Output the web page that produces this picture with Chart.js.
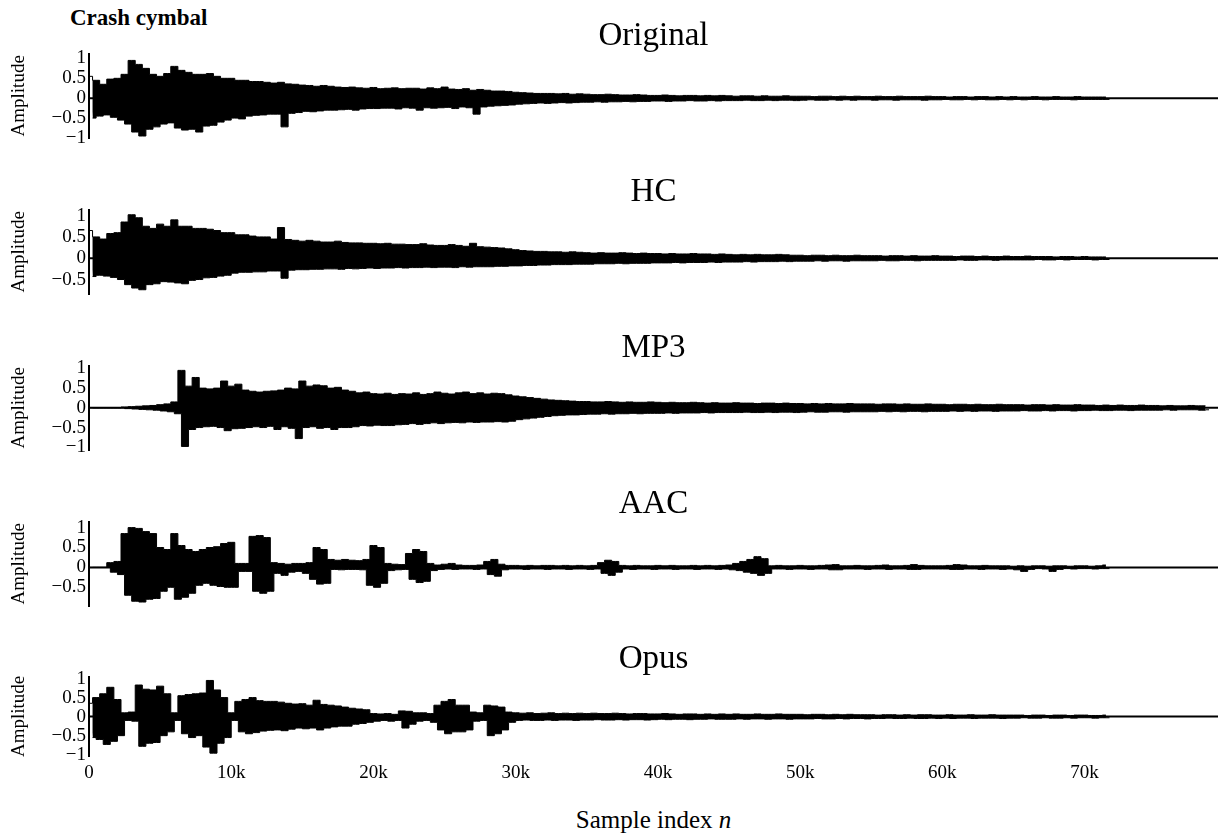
<!DOCTYPE html>
<html>
<head>
<meta charset="utf-8">
<script src="https://cdn.jsdelivr.net/npm/chart.js@4.4.1/dist/chart.umd.min.js"></script>
<style>
  body { margin: 0; background: #fff; }
  #wrap { position: relative; width: 1222px; height: 837px; overflow: hidden; }
  #wrap canvas { position: absolute; left: 0; }
  #caption {
    position: absolute; left: 70px; top: 5px;
    font-family: "Liberation Serif", "Times New Roman", serif;
    font-weight: bold; font-size: 23px; line-height: 26px; color: #000;
  }
  #xlabel {
    position: absolute; left: 89px; width: 1129px; top: 805px; text-align: center;
    font-family: "Liberation Serif", "Times New Roman", serif;
    font-size: 25px; line-height: 30px; color: #000;
  }
</style>
</head>
<body>
<div id="wrap">
  <div id="caption">Crash cymbal</div>
  <div id="xlabel">Sample index <i>n</i></div>
</div>
<script>
// peak envelope of each decoded signal, one hi/lo pair per 500 samples
const step = 500;
const nSamples = 79380;
const titles = ['Original', 'HC', 'MP3', 'AAC', 'Opus'];
const xTickValues = [0, 10000, 20000, 30000, 40000, 50000, 60000, 70000];
const yTickValues = [-1, -0.5, 0, 0.5, 1];
const yMins = [-1, -0.84, -1.07, -0.97, -1.04];
const yMaxs = [1.12, 1.14, 1.07, 1.15, 1.05];

const origHi = [
  0.55,0.45,0.35,0.48,0.5,0.6,0.95,0.85,0.75,0.6,
  0.55,0.62,0.8,0.7,0.65,0.6,0.6,0.62,0.55,0.5,
  0.5,0.45,0.45,0.42,0.42,0.4,0.38,0.4,0.36,0.35,
  0.33,0.32,0.3,0.32,0.3,0.28,0.27,0.28,0.26,0.25,
  0.27,0.24,0.25,0.26,0.24,0.25,0.25,0.23,0.26,0.24,
  0.28,0.23,0.22,0.24,0.2,0.22,0.2,0.18,0.18,0.17,
  0.15,0.14,0.13,0.12,0.12,0.12,0.11,0.12,0.1,0.11,
  0.1,0.09,0.09,0.1,0.09,0.08,0.08,0.09,0.08,0.07,
  0.07,0.08,0.07,0.06,0.07,0.07,0.06,0.07,0.06,0.07,
  0.06,0.05,0.06,0.06,0.05,0.06,0.05,0.05,0.06,0.05,
  0.05,0.05,0.04,0.05,0.05,0.04,0.05,0.04,0.05,0.04,
  0.04,0.05,0.04,0.04,0.05,0.04,0.04,0.04,0.05,0.04,
  0.04,0.03,0.04,0.04,0.03,0.04,0.04,0.03,0.04,0.03,
  0.04,0.03,0.03,0.04,0.03,0.03,0.04,0.03,0.03,0.04,
  0.03,0.03,0.03,0.03
];
const origLo = [
  -0.5,-0.45,-0.42,-0.48,-0.55,-0.65,-0.85,-0.95,-0.78,-0.72,
  -0.65,-0.62,-0.75,-0.8,-0.78,-0.85,-0.7,-0.68,-0.6,-0.55,
  -0.5,-0.52,-0.45,-0.43,-0.42,-0.4,-0.4,-0.72,-0.38,-0.36,
  -0.33,-0.34,-0.32,-0.3,-0.3,-0.29,-0.28,-0.3,-0.27,-0.26,
  -0.26,-0.25,-0.25,-0.27,-0.24,-0.25,-0.3,-0.24,-0.25,-0.24,
  -0.23,-0.26,-0.22,-0.24,-0.4,-0.22,-0.2,-0.19,-0.18,-0.17,
  -0.15,-0.14,-0.13,-0.12,-0.13,-0.12,-0.11,-0.12,-0.11,-0.1,
  -0.1,-0.09,-0.1,-0.09,-0.09,-0.08,-0.09,-0.08,-0.08,-0.07,
  -0.07,-0.08,-0.07,-0.07,-0.06,-0.07,-0.07,-0.06,-0.07,-0.06,
  -0.06,-0.06,-0.05,-0.06,-0.06,-0.05,-0.06,-0.05,-0.05,-0.06,
  -0.05,-0.04,-0.05,-0.05,-0.04,-0.05,-0.04,-0.05,-0.04,-0.04,
  -0.05,-0.04,-0.04,-0.05,-0.04,-0.04,-0.04,-0.05,-0.04,-0.04,
  -0.03,-0.04,-0.04,-0.03,-0.04,-0.03,-0.04,-0.04,-0.03,-0.04,
  -0.03,-0.04,-0.03,-0.03,-0.04,-0.03,-0.03,-0.03,-0.04,-0.03,
  -0.03,-0.03,-0.03,-0.03
];

const hcHi = [
  0.65,0.5,0.45,0.58,0.6,0.85,1.02,0.95,0.75,0.7,
  0.8,0.75,0.9,0.75,0.75,0.7,0.7,0.68,0.65,0.6,
  0.6,0.55,0.55,0.52,0.5,0.5,0.45,0.72,0.44,0.42,
  0.4,0.42,0.4,0.38,0.38,0.4,0.37,0.36,0.36,0.35,
  0.35,0.34,0.35,0.33,0.33,0.32,0.32,0.34,0.31,0.3,
  0.3,0.32,0.3,0.28,0.35,0.27,0.26,0.25,0.24,0.22,
  0.2,0.18,0.17,0.16,0.16,0.15,0.15,0.14,0.15,0.14,
  0.13,0.12,0.13,0.12,0.12,0.13,0.12,0.11,0.12,0.11,
  0.11,0.1,0.11,0.1,0.1,0.11,0.1,0.1,0.09,0.1,
  0.09,0.08,0.09,0.08,0.09,0.08,0.08,0.09,0.08,0.07,
  0.07,0.06,0.07,0.07,0.06,0.07,0.06,0.06,0.07,0.06,
  0.06,0.06,0.05,0.06,0.06,0.05,0.06,0.05,0.05,0.06,
  0.05,0.05,0.04,0.05,0.05,0.04,0.05,0.04,0.04,0.05,
  0.04,0.04,0.05,0.04,0.04,0.04,0.03,0.04,0.04,0.03,
  0.04,0.03,0.03,0.03
];
const hcLo = [
  -0.43,-0.4,-0.42,-0.45,-0.5,-0.62,-0.7,-0.74,-0.62,-0.6,
  -0.55,-0.56,-0.58,-0.6,-0.52,-0.5,-0.46,-0.45,-0.42,-0.4,
  -0.35,-0.33,-0.33,-0.32,-0.32,-0.3,-0.3,-0.47,-0.28,-0.27,
  -0.27,-0.26,-0.26,-0.25,-0.25,-0.26,-0.24,-0.25,-0.24,-0.23,
  -0.24,-0.23,-0.23,-0.22,-0.23,-0.22,-0.22,-0.21,-0.22,-0.21,
  -0.21,-0.22,-0.2,-0.21,-0.2,-0.2,-0.2,-0.19,-0.19,-0.18,
  -0.18,-0.17,-0.17,-0.16,-0.16,-0.15,-0.15,-0.15,-0.14,-0.14,
  -0.14,-0.13,-0.13,-0.13,-0.12,-0.13,-0.12,-0.12,-0.12,-0.11,
  -0.11,-0.11,-0.1,-0.11,-0.1,-0.1,-0.1,-0.09,-0.1,-0.09,
  -0.09,-0.09,-0.08,-0.09,-0.08,-0.08,-0.08,-0.07,-0.08,-0.07,
  -0.07,-0.07,-0.06,-0.07,-0.06,-0.06,-0.07,-0.06,-0.06,-0.06,
  -0.06,-0.05,-0.06,-0.06,-0.05,-0.05,-0.06,-0.05,-0.05,-0.05,
  -0.05,-0.05,-0.04,-0.05,-0.05,-0.04,-0.04,-0.05,-0.04,-0.04,
  -0.04,-0.04,-0.04,-0.03,-0.04,-0.04,-0.03,-0.04,-0.03,-0.03,
  -0.03,-0.04,-0.03,-0.03
];

const mp3Hi = [
  0,0,0,0,0,0.02,0.03,0.04,0.05,0.06,
  0.08,0.1,0.15,0.95,0.55,0.77,0.5,0.48,0.5,0.68,
  0.55,0.6,0.45,0.42,0.4,0.42,0.43,0.45,0.5,0.48,
  0.68,0.55,0.58,0.56,0.5,0.52,0.45,0.42,0.38,0.4,
  0.36,0.35,0.37,0.34,0.36,0.35,0.38,0.34,0.36,0.4,
  0.37,0.35,0.38,0.4,0.36,0.38,0.35,0.37,0.36,0.33,
  0.3,0.28,0.26,0.24,0.22,0.2,0.19,0.18,0.17,0.16,
  0.16,0.15,0.15,0.16,0.15,0.14,0.15,0.14,0.14,0.15,
  0.14,0.13,0.14,0.13,0.13,0.14,0.13,0.12,0.13,0.12,
  0.12,0.13,0.12,0.12,0.11,0.12,0.12,0.11,0.12,0.11,
  0.11,0.1,0.11,0.1,0.11,0.1,0.1,0.11,0.1,0.1,
  0.1,0.09,0.1,0.1,0.09,0.1,0.09,0.09,0.1,0.09,
  0.09,0.08,0.09,0.09,0.08,0.09,0.08,0.08,0.09,0.08,
  0.08,0.08,0.07,0.08,0.08,0.07,0.08,0.07,0.07,0.08,
  0.07,0.07,0.06,0.07,0.06,0.07,0.06,0.06,0.07,0.06,
  0.06,0.05,0.06,0.05,0.05,0.06,0.05,0.05
];
const mp3Lo = [
  0,0,0,0,0,-0.02,-0.03,-0.04,-0.05,-0.06,
  -0.08,-0.1,-0.15,-0.98,-0.55,-0.5,-0.48,-0.47,-0.5,-0.58,
  -0.53,-0.52,-0.5,-0.48,-0.5,-0.47,-0.55,-0.48,-0.52,-0.78,
  -0.5,-0.48,-0.52,-0.5,-0.55,-0.5,-0.5,-0.48,-0.45,-0.46,
  -0.44,-0.45,-0.45,-0.43,-0.42,-0.4,-0.42,-0.4,-0.38,-0.4,
  -0.38,-0.37,-0.38,-0.36,-0.37,-0.36,-0.36,-0.35,-0.36,-0.34,
  -0.3,-0.28,-0.26,-0.24,-0.22,-0.2,-0.19,-0.18,-0.18,-0.17,
  -0.16,-0.16,-0.15,-0.16,-0.15,-0.15,-0.14,-0.15,-0.14,-0.14,
  -0.14,-0.13,-0.14,-0.13,-0.13,-0.13,-0.12,-0.13,-0.12,-0.12,
  -0.12,-0.12,-0.11,-0.12,-0.12,-0.11,-0.12,-0.11,-0.11,-0.12,
  -0.11,-0.1,-0.11,-0.11,-0.1,-0.1,-0.11,-0.1,-0.1,-0.1,
  -0.1,-0.09,-0.1,-0.09,-0.1,-0.09,-0.09,-0.1,-0.09,-0.09,
  -0.09,-0.08,-0.09,-0.08,-0.09,-0.08,-0.08,-0.09,-0.08,-0.08,
  -0.08,-0.07,-0.08,-0.08,-0.07,-0.08,-0.07,-0.07,-0.08,-0.07,
  -0.07,-0.06,-0.07,-0.07,-0.06,-0.06,-0.07,-0.06,-0.06,-0.06,
  -0.06,-0.05,-0.06,-0.05,-0.05,-0.05,-0.06,-0.05
];

const aacHi = [
  0,0,0,0.12,0.15,0.85,1.0,0.98,0.9,0.85,
  0.5,0.45,0.85,0.55,0.45,0.4,0.45,0.5,0.52,0.6,
  0.63,0.1,0.1,0.78,0.8,0.75,0.12,0.1,0.08,0.1,
  0.1,0.12,0.5,0.45,0.2,0.18,0.2,0.18,0.17,0.2,
  0.55,0.5,0.1,0.08,0.07,0.35,0.45,0.4,0.1,0.06,
  0.08,0.1,0.06,0.05,0.05,0.06,0.15,0.2,0.08,0.05,
  0.05,0.04,0.05,0.04,0.05,0.05,0.04,0.05,0.04,0.05,
  0.04,0.05,0.12,0.18,0.15,0.05,0.04,0.05,0.04,0.04,
  0.05,0.04,0.05,0.04,0.04,0.05,0.04,0.05,0.04,0.05,
  0.06,0.1,0.15,0.2,0.27,0.22,0.04,0.05,0.04,0.04,
  0.05,0.04,0.04,0.05,0.06,0.07,0.04,0.04,0.05,0.04,
  0.04,0.05,0.06,0.04,0.04,0.05,0.07,0.05,0.04,0.04,
  0.04,0.05,0.07,0.06,0.04,0.04,0.05,0.04,0.04,0.04,
  0.03,0.04,0.03,0.04,0.04,0.03,0.04,0.04,0.03,0.04,
  0.04,0.03,0.04,0.06
];
const aacLo = [
  0,0,0,-0.12,-0.18,-0.7,-0.85,-0.87,-0.8,-0.78,
  -0.6,-0.5,-0.8,-0.75,-0.65,-0.45,-0.4,-0.45,-0.48,-0.5,
  -0.5,-0.1,-0.1,-0.6,-0.65,-0.6,-0.15,-0.2,-0.12,-0.1,
  -0.15,-0.3,-0.42,-0.4,-0.05,-0.06,-0.05,-0.05,-0.06,-0.45,
  -0.5,-0.4,-0.08,-0.06,-0.05,-0.3,-0.38,-0.35,-0.08,-0.05,
  -0.04,-0.05,-0.04,-0.04,-0.05,-0.04,-0.18,-0.22,-0.06,-0.04,
  -0.04,-0.05,-0.04,-0.04,-0.05,-0.04,-0.04,-0.05,-0.04,-0.04,
  -0.05,-0.04,-0.15,-0.2,-0.12,-0.04,-0.05,-0.04,-0.04,-0.05,
  -0.04,-0.04,-0.05,-0.04,-0.04,-0.05,-0.04,-0.04,-0.05,-0.04,
  -0.06,-0.08,-0.12,-0.15,-0.2,-0.15,-0.04,-0.04,-0.05,-0.04,
  -0.04,-0.05,-0.04,-0.04,-0.06,-0.06,-0.04,-0.04,-0.04,-0.05,
  -0.04,-0.04,-0.05,-0.04,-0.04,-0.05,-0.05,-0.04,-0.04,-0.04,
  -0.04,-0.05,-0.05,-0.04,-0.04,-0.05,-0.04,-0.04,-0.05,-0.04,
  -0.06,-0.1,-0.05,-0.03,-0.04,-0.1,-0.05,-0.03,-0.04,-0.03,
  -0.03,-0.04,-0.03,-0.03
];

const opusHi = [
  0.35,0.5,0.6,0.77,0.45,0.1,0.12,0.83,0.72,0.7,
  0.8,0.6,0.1,0.55,0.58,0.6,0.62,0.95,0.7,0.5,
  0.1,0.4,0.45,0.5,0.42,0.4,0.4,0.38,0.35,0.33,
  0.34,0.3,0.43,0.32,0.3,0.28,0.25,0.22,0.2,0.18,
  0.08,0.07,0.08,0.06,0.15,0.14,0.1,0.1,0.08,0.3,
  0.4,0.45,0.3,0.3,0.12,0.1,0.3,0.28,0.25,0.12,
  0.1,0.09,0.1,0.08,0.09,0.1,0.08,0.09,0.08,0.09,
  0.08,0.09,0.08,0.08,0.09,0.08,0.07,0.08,0.08,0.07,
  0.07,0.08,0.07,0.06,0.07,0.07,0.06,0.07,0.06,0.07,
  0.06,0.07,0.06,0.06,0.07,0.06,0.06,0.07,0.06,0.06,
  0.06,0.05,0.06,0.06,0.05,0.06,0.05,0.06,0.05,0.05,
  0.05,0.04,0.05,0.05,0.04,0.05,0.04,0.05,0.05,0.04,
  0.04,0.05,0.04,0.04,0.05,0.04,0.04,0.05,0.04,0.04,
  0.04,0.04,0.03,0.04,0.04,0.03,0.04,0.04,0.03,0.04,
  0.04,0.03,0.03,0.04
];
const opusLo = [
  -0.55,-0.6,-0.73,-0.65,-0.5,-0.1,-0.12,-0.78,-0.7,-0.68,
  -0.5,-0.4,-0.1,-0.45,-0.55,-0.5,-0.8,-0.96,-0.7,-0.55,
  -0.1,-0.4,-0.45,-0.42,-0.38,-0.36,-0.35,-0.37,-0.33,-0.3,
  -0.32,-0.3,-0.35,-0.3,-0.27,-0.25,-0.25,-0.2,-0.18,-0.15,
  -0.12,-0.1,-0.12,-0.1,-0.3,-0.2,-0.12,-0.1,-0.15,-0.35,
  -0.45,-0.4,-0.4,-0.35,-0.12,-0.1,-0.5,-0.45,-0.35,-0.15,
  -0.1,-0.09,-0.1,-0.1,-0.09,-0.1,-0.09,-0.09,-0.1,-0.09,
  -0.09,-0.08,-0.09,-0.09,-0.08,-0.09,-0.08,-0.08,-0.09,-0.08,
  -0.07,-0.08,-0.07,-0.07,-0.08,-0.07,-0.07,-0.06,-0.07,-0.07,
  -0.07,-0.06,-0.07,-0.06,-0.06,-0.07,-0.06,-0.06,-0.07,-0.06,
  -0.06,-0.06,-0.05,-0.06,-0.06,-0.05,-0.06,-0.05,-0.05,-0.06,
  -0.05,-0.05,-0.04,-0.05,-0.05,-0.04,-0.05,-0.05,-0.04,-0.05,
  -0.04,-0.05,-0.04,-0.04,-0.05,-0.04,-0.04,-0.04,-0.05,-0.04,
  -0.04,-0.03,-0.04,-0.04,-0.03,-0.04,-0.04,-0.03,-0.04,-0.03,
  -0.03,-0.04,-0.03,-0.03
];

const tracks = [
  [origHi, origLo], [hcHi, hcLo], [mp3Hi, mp3Lo], [aacHi, aacLo], [opusHi, opusLo]
];

const FONT = '"Liberation Serif", "Times New Roman", serif';
const areaTop0 = 54, pitch = 155.75, areaH = 84.5;

// upper and lower peaks sit half a bin apart so the two stepped edges don't line up
function peaks(vals, offset) {
  return vals.map((v, i) => ({x: i * step + offset, y: v}));
}

function fmtAmp(v) {
  return v < 0 ? '\u2212' + Math.abs(v) : String(v);
}

const wrap = document.getElementById('wrap');

tracks.forEach(([hi, lo], i) => {
  const last = i === tracks.length - 1;
  const areaTop = areaTop0 + i * pitch;
  const head = 38.65;
  const height = last ? head + areaH + 30 : head + areaH + 16;

  const cv = document.createElement('canvas');
  cv.width = 1222;
  cv.height = Math.round(height);
  cv.style.top = (areaTop - head) + 'px';
  wrap.appendChild(cv);

  new Chart(cv, {
    type: 'line',
    data: {
      datasets: [
        {
          data: peaks(hi, 0),
          borderColor: '#000',
          backgroundColor: '#000',
          borderWidth: 1,
          stepped: 'middle',
          fill: '+1',
          pointRadius: 0
        },
        {
          data: peaks(lo, step / 2),
          borderColor: '#000',
          backgroundColor: '#000',
          borderWidth: 1,
          stepped: 'middle',
          fill: false,
          pointRadius: 0
        },
        {
          data: [{x: 0, y: 0}, {x: nSamples, y: 0}],
          borderColor: '#000',
          borderWidth: 2,
          pointRadius: 0,
          fill: false
        }
      ]
    },
    options: {
      responsive: false,
      animation: false,
      devicePixelRatio: 1,
      layout: { padding: { left: 0, right: 4, top: 0, bottom: last ? 2 : 16 } },
      plugins: {
        legend: { display: false },
        tooltip: { enabled: false },
        title: {
          display: true,
          text: titles[i],
          fullSize: false,
          color: '#000',
          font: { family: FONT, size: 33, weight: 'normal', lineHeight: 1.05 },
          padding: { top: 4, bottom: 0 }
        }
      },
      scales: {
        x: {
          type: 'linear',
          min: 0,
          max: nSamples,
          display: last,
          grid: { display: false, drawTicks: false },
          border: { display: false },
          afterBuildTicks: s => { s.ticks = xTickValues.map(v => ({value: v})); },
          ticks: {
            color: '#000',
            padding: 5,
            maxRotation: 0,
            autoSkip: false,
            font: { family: FONT, size: 19 },
            callback: v => v === 0 ? '0' : (v / 1000) + 'k'
          }
        },
        y: {
          min: yMins[i],
          max: yMaxs[i],
          grid: { display: false, drawTicks: false },
          border: { display: true, color: '#000', width: 2 },
          afterFit: s => { s.width = 89; },
          afterBuildTicks: s => {
            s.ticks = yTickValues.filter(v => v >= s.min && v <= s.max).map(v => ({value: v}));
          },
          ticks: {
            color: '#000',
            padding: 3,
            autoSkip: false,
            font: { family: FONT, size: 19 },
            callback: v => fmtAmp(v)
          },
          title: {
            display: true,
            text: 'Amplitude',
            color: '#000',
            font: { family: FONT, size: 19 },
            padding: { top: 8, bottom: 0 }
          }
        }
      }
    }
  });
});
</script>
</body>
</html>
